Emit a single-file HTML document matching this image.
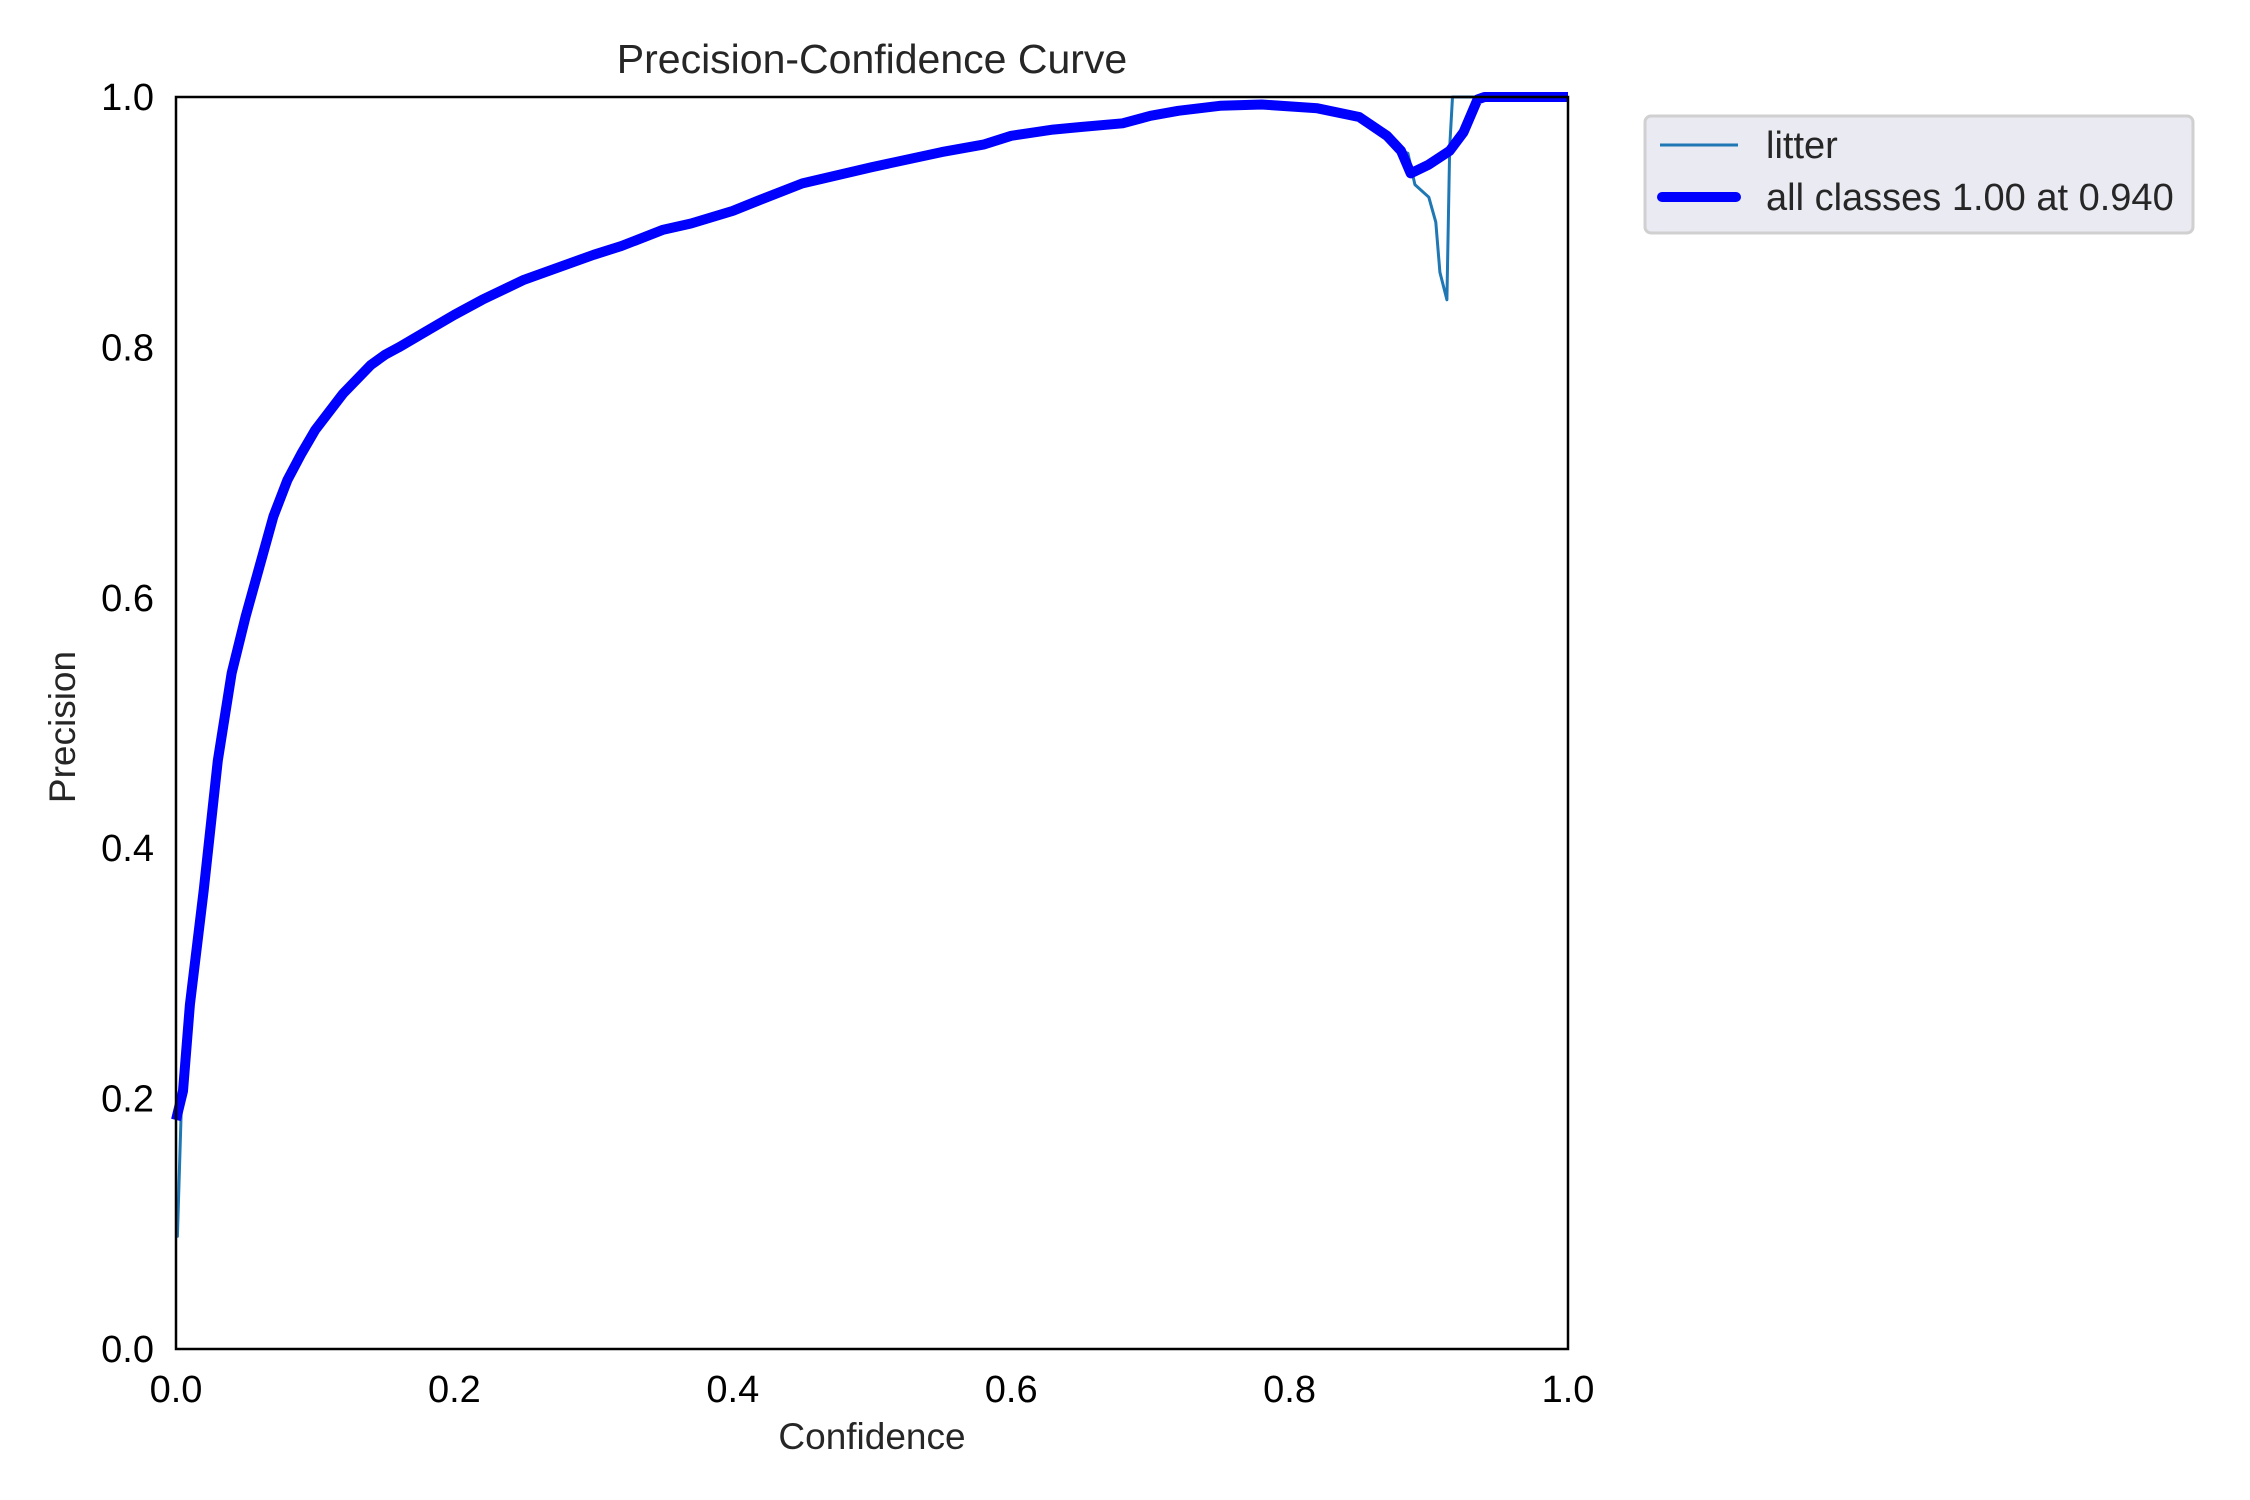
<!DOCTYPE html>
<html><head><meta charset="utf-8"><style>
html,body{margin:0;padding:0;background:#fff;}
svg{display:block;font-family:"Liberation Sans",Arial,sans-serif;}
</style></head><body>
<svg id="chart" width="2250" height="1500" viewBox="0 0 2250 1500">
<text x="872" y="73" text-anchor="middle" font-size="41" fill="#262626">Precision-Confidence Curve</text>
<text x="872" y="1449" text-anchor="middle" font-size="37" fill="#262626">Confidence</text>
<text x="0" y="0" transform="translate(75,727) rotate(-90)" text-anchor="middle" font-size="37" fill="#262626">Precision</text>
<g id="xticks"></g>
<g id="yticks"></g>
<g id="series"></g>
<rect x="176" y="97" width="1392" height="1252" fill="none" stroke="#000" stroke-width="2.5"/>
<g>
<rect x="1645" y="116" width="548" height="117" rx="6" fill="#eaeaf2" stroke="#d0d0d0" stroke-width="3"/>
<line x1="1660" y1="145" x2="1738" y2="145" stroke="#1f77b4" stroke-width="3"/>
<text x="1766" y="158" font-size="38" fill="#262626">litter</text>
<line x1="1662" y1="197" x2="1736" y2="197" stroke="#0000ff" stroke-width="10" stroke-linecap="round"/>
<text x="1766" y="210" font-size="38" fill="#262626">all classes 1.00 at 0.940</text>
</g>
</svg>
<script>
const allConf = [0,0.005,0.01,0.02,0.03,0.04,0.05,0.06,0.07,0.08,0.09,0.1,0.12,0.14,0.15,0.16,0.18,0.2,0.22,0.25,0.27,0.3,0.32,0.35,0.37,0.4,0.42,0.45,0.5,0.55,0.58,0.6,0.63,0.65,0.68,0.7,0.72,0.75,0.78,0.82,0.85,0.87,0.88,0.887,0.9,0.915,0.925,0.935,0.94,1.0];
const allPrec = [0.183,0.206,0.275,0.367,0.47,0.54,0.585,0.625,0.665,0.694,0.715,0.734,0.763,0.786,0.794,0.80,0.813,0.826,0.838,0.854,0.862,0.874,0.881,0.894,0.899,0.909,0.918,0.931,0.944,0.956,0.962,0.969,0.974,0.976,0.979,0.985,0.989,0.993,0.994,0.991,0.984,0.969,0.957,0.939,0.946,0.957,0.972,0.998,1.0,1.0];
const litterConf = [0,0.001,0.004,0.008,0.02,0.03,0.04,0.05,0.06,0.07,0.08,0.1,0.12,0.14,0.16,0.2,0.25,0.3,0.35,0.4,0.45,0.5,0.55,0.6,0.65,0.7,0.75,0.78,0.82,0.85,0.87,0.88,0.885,0.89,0.9,0.905,0.908,0.913,0.915,0.917,1.0];
const litterPrec = [0.09,0.09,0.2,0.26,0.367,0.47,0.54,0.59,0.63,0.668,0.696,0.734,0.763,0.786,0.80,0.826,0.854,0.874,0.894,0.909,0.931,0.944,0.956,0.969,0.976,0.985,0.993,0.994,0.991,0.984,0.969,0.957,0.955,0.93,0.92,0.90,0.86,0.838,0.96,1.0,1.0];
const xTicks = [0,0.2,0.4,0.6,0.8,1.0];
const yTicks = [0,0.2,0.4,0.6,0.8,1.0];
const tickLabels = ["0.0","0.2","0.4","0.6","0.8","1.0"];

const X0=176,X1=1568,Y0=1349,Y1=97;
function xs(v){return X0+(X1-X0)*v;}
function ys(v){return Y0-(Y0-Y1)*v;}
const NS="http://www.w3.org/2000/svg";
const xg=document.getElementById('xticks'), yg=document.getElementById('yticks'), sg=document.getElementById('series');
xTicks.forEach((t,i)=>{
  const el=document.createElementNS(NS,'text');
  el.setAttribute('x',xs(t));el.setAttribute('y',1402);
  el.setAttribute('text-anchor','middle');el.setAttribute('font-size','38');el.setAttribute('fill','#000');
  el.textContent=tickLabels[i];
  
  
  xg.appendChild(el);
});
yTicks.forEach((t,i)=>{
  const el=document.createElementNS(NS,'text');
  el.setAttribute('x',154);el.setAttribute('y',ys(t)+13);
  el.setAttribute('text-anchor','end');el.setAttribute('font-size','38');el.setAttribute('fill','#000');
  el.textContent=tickLabels[i];
  
  
  yg.appendChild(el);
});
function pathFor(cx,py){return cx.map((c,i)=>(i?'L':'M')+xs(c).toFixed(1)+' '+ys(py[i]).toFixed(1)).join(' ');}
const lp=document.createElementNS(NS,'path');
lp.setAttribute('d',pathFor(litterConf,litterPrec));
lp.setAttribute('fill','none');lp.setAttribute('stroke','#1f77b4');lp.setAttribute('stroke-width','3');lp.setAttribute('stroke-linejoin','round');


sg.appendChild(lp);
const ap=document.createElementNS(NS,'path');
ap.setAttribute('d',pathFor(allConf,allPrec));
ap.setAttribute('fill','none');ap.setAttribute('stroke','#0000ff');ap.setAttribute('stroke-width','10');ap.setAttribute('stroke-linejoin','round');


sg.appendChild(ap);
</script>
</body></html>
